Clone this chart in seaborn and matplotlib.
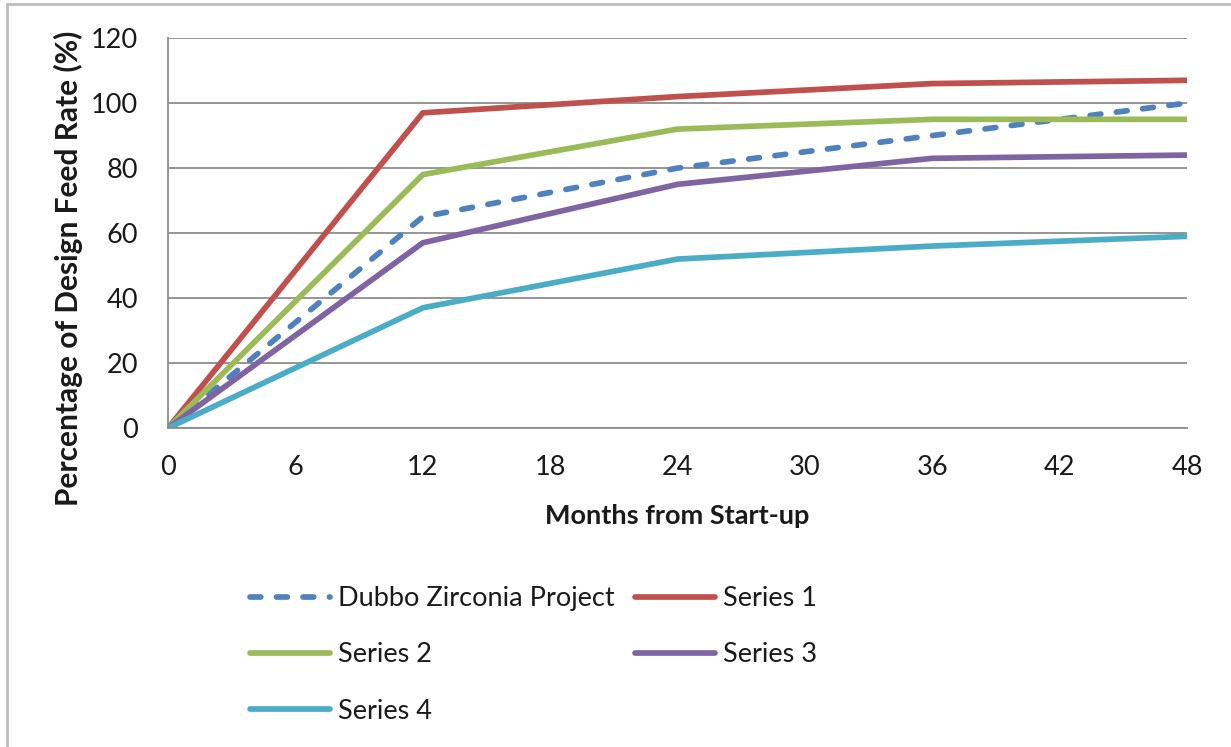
import matplotlib
matplotlib.use("Agg")
import matplotlib.pyplot as plt
from matplotlib.lines import Line2D
import pandas as pd
import seaborn as sns

months = [0, 12, 24, 36, 48]
dubbo = [0, 65, 80, 90, 100]
series_1 = [0, 97, 102, 106, 107]
series_2 = [0, 78, 92, 95, 95]
series_3 = [0, 57, 75, 83, 84]
series_4 = [0, 37, 52, 56, 59]

names = ["Dubbo Zirconia Project", "Series 1", "Series 2", "Series 3", "Series 4"]
values = [dubbo, series_1, series_2, series_3, series_4]
colors = ["#4F81BD", "#C0504D", "#9BBB59", "#8064A2", "#4BACC6"]

sns.set_theme(style="white")
plt.rcParams["font.family"] = ["Lato", "DejaVu Sans"]

df = pd.concat(
    [pd.DataFrame({"Month": months, "Value": v, "Series": n}) for n, v in zip(names, values)],
    ignore_index=True,
)

FS = 19.5
LW = 4.1
DASH = (0, (1.9, 2.75))

fig = plt.figure(figsize=(12.31, 7.47), dpi=100)
ax = fig.add_axes([0.1365, 0.427, 0.9643 - 0.1365, 0.949 - 0.427])

handles = {}
for n, c in zip(names, colors):
    sub = df[df["Series"] == n]
    ls = DASH if n.startswith("Dubbo") else "-"
    sns.lineplot(data=sub, x="Month", y="Value", ax=ax, color=c, lw=LW,
                 linestyle=ls, legend=False, solid_capstyle="round",
                 dash_capstyle="round", solid_joinstyle="round")
    handles[n] = Line2D([0], [0], color=c, lw=LW, linestyle=ls,
                        solid_capstyle="round", dash_capstyle="round")

ax.set_xlim(0, 48)
ax.set_ylim(0, 120)
ax.set_xticks(range(0, 49, 6))
ax.set_yticks(range(0, 121, 20))
ax.yaxis.grid(True, color="#8c8c8c", lw=1.3)
ax.set_axisbelow(True)
for s in ["top", "right"]:
    ax.spines[s].set_visible(False)
for s in ["left", "bottom"]:
    ax.spines[s].set_color("#8c8c8c")
    ax.spines[s].set_linewidth(1.3)
ax.tick_params(axis="both", which="major", width=1.3, color="#8c8c8c",
               labelsize=FS, labelcolor="#1a1a1a", direction="out")
ax.tick_params(axis="x", length=5, pad=14.5)
ax.tick_params(axis="y", length=7.5, pad=14)

ax.set_xlabel("Months from Start-up", fontsize=FS, fontweight="bold", labelpad=17, color="#1a1a1a")
ax.set_ylabel("Percentage of Design Feed Rate (%)", fontsize=21.5, fontweight="bold", color="#1a1a1a")
ax.yaxis.set_label_coords(-0.0834, 0.41)

order = ["Dubbo Zirconia Project", "Series 2", "Series 4", "Series 1", "Series 3"]
fig.legend([handles[n] for n in order], order, ncol=2, loc="upper left",
           bbox_to_anchor=(0.1836, 0.2477), frameon=False, fontsize=FS,
           handlelength=2.95, handletextpad=0.3, columnspacing=0.75,
           labelspacing=1.15, labelcolor="#1a1a1a")

# light outer frame around the chart area
fig.add_artist(Line2D([7 / 1231, 1.0], [1 - 4 / 747, 1 - 4 / 747], color="#bdbdbd", lw=2))
fig.add_artist(Line2D([7 / 1231, 7 / 1231], [0, 1 - 4 / 747], color="#bdbdbd", lw=2))

fig.savefig("out.png", dpi=100, facecolor="white")
